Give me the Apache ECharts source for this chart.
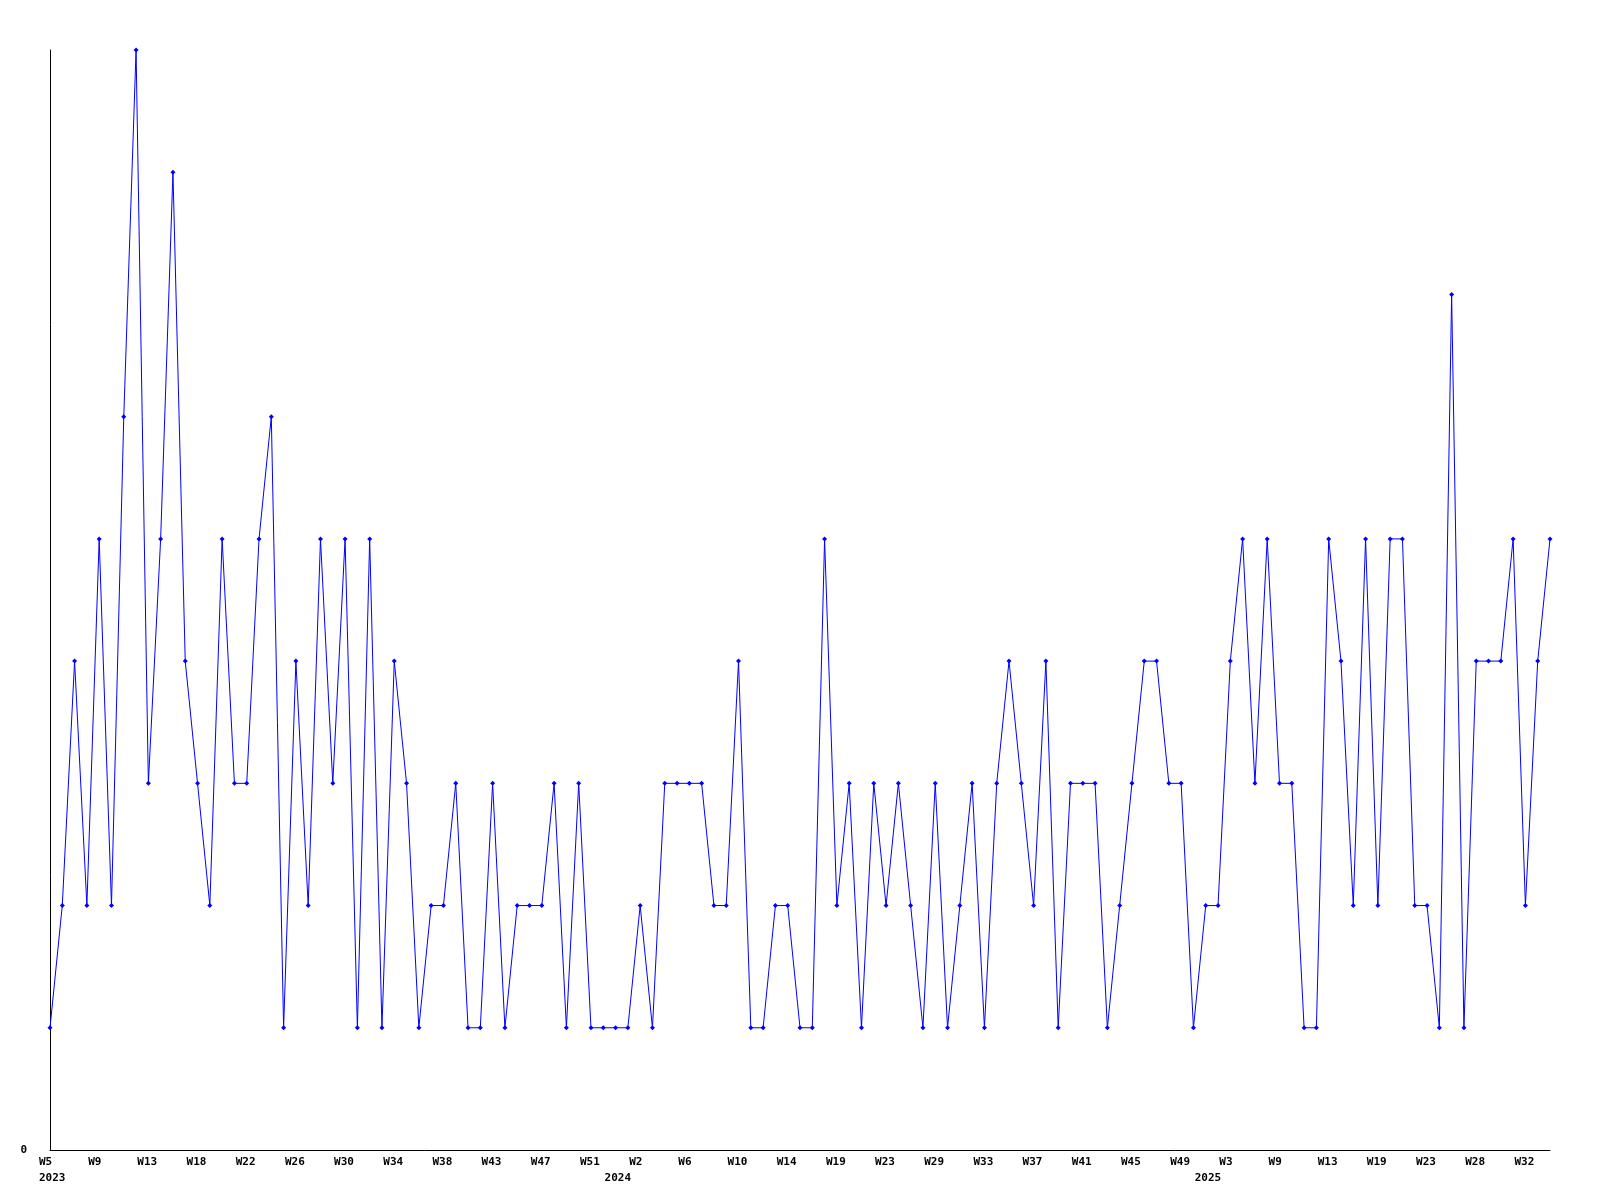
<!DOCTYPE html>
<html>
<head>
<meta charset="utf-8">
<script src="https://cdn.jsdelivr.net/npm/echarts@6/dist/echarts.min.js"></script>
<style>
  html, body { margin: 0; padding: 0; background: #ffffff; }
  #chart { width: 1600px; height: 1200px; }
</style>
</head>
<body>
<div id="chart"></div>
<script>
// Week categories (one per data point)
const weeks = [
  'W5','W6','W7','W8','W9','W10','W11','W12','W13','W14','W15','W17','W18','W19','W20','W21',
  'W22','W23','W24','W25','W26','W27','W28','W29','W30','W31','W32','W33','W34','W35','W36','W37',
  'W38','W39','W40','W42','W43','W44','W45','W46','W47','W48','W49','W50','W51','W52','W1','W1',
  'W2','W3','W4','W5','W6','W7','W8','W9','W10','W11','W12','W13','W14','W15','W17','W18',
  'W19','W20','W21','W22','W23','W25','W27','W28','W29','W30','W31','W32','W33','W34','W35','W36',
  'W37','W38','W39','W40','W41','W42','W43','W44','W45','W46','W47','W48','W49','W51','W1','W2',
  'W3','W5','W7','W8','W9','W10','W11','W12','W13','W15','W16','W18','W19','W20','W21','W22',
  'W23','W24','W26','W27','W28','W29','W30','W31','W32','W33','W34'
];
// Year labels: index of first point of each year
const yearIndex = [0, 46, 94];
const yearNames = ['2023', '2024', '2025'];
// Values
const values = [
  1,2,4,2,5,2,6,9,3,5,8,4,3,2,5,3,
  3,5,6,1,4,2,5,3,5,1,5,1,4,3,1,2,
  2,3,1,1,3,1,2,2,2,3,1,3,1,1,1,1,
  2,1,3,3,3,3,2,2,4,1,1,2,2,1,1,5,
  2,3,1,3,2,3,2,1,3,1,2,3,1,3,4,3,
  2,4,1,3,3,3,1,2,3,4,4,3,3,1,2,2,
  4,5,3,5,3,3,1,1,5,4,2,5,2,5,5,2,
  2,1,7,1,4,4,4,5,2,4,5
];
const yTicks = ['0'];

const chart = echarts.init(document.getElementById('chart'), null, { renderer: 'canvas' });
const labelFont = { fontFamily: 'DejaVu Sans Mono', fontWeight: 'bold', fontSize: 11, color: '#000' };

chart.setOption({
  animation: false,
  backgroundColor: '#ffffff',
  grid: [
    { left: 50, right: 50, top: 50, bottom: 50, containLabel: false },
    // label grid: same width, shifted left so labels start just left of each tick
    { left: 39, right: 61, top: 50, bottom: 50, containLabel: false }
  ],
  xAxis: [
    {
      type: 'category',
      gridIndex: 0,
      data: weeks,
      boundaryGap: false,
      axisLine: { show: true, lineStyle: { color: '#000', width: 1 } },
      axisTick: { show: false },
      axisLabel: { show: false },
      splitLine: { show: false }
    },
    {
      type: 'category',
      gridIndex: 1,
      data: weeks,
      position: 'bottom',
      boundaryGap: false,
      axisLine: { show: false },
      axisTick: { show: false },
      axisLabel: Object.assign({ interval: 3, margin: 7, align: 'left' }, labelFont),
      splitLine: { show: false }
    },
    {
      type: 'category',
      gridIndex: 1,
      data: weeks,
      position: 'bottom',
      offset: 16,
      boundaryGap: false,
      axisLine: { show: false },
      axisTick: { show: false },
      axisLabel: Object.assign({
        margin: 7,
        align: 'left',
        interval: function (idx) { return yearIndex.indexOf(idx) >= 0; },
        formatter: function (v, idx) {
          const k = yearIndex.indexOf(idx);
          return k >= 0 ? yearNames[k] : '';
        }
      }, labelFont),
      splitLine: { show: false }
    }
  ],
  yAxis: [
    {
      type: 'value',
      gridIndex: 0,
      min: 0,
      max: 9,
      interval: 9,
      axisLine: { show: true, lineStyle: { color: '#000', width: 1 } },
      axisTick: { show: false },
      splitLine: { show: false },
      axisLabel: Object.assign({
        margin: 23,
        formatter: function (v) { return v === 0 ? yTicks[0] : ''; }
      }, labelFont)
    },
    {
      type: 'value',
      gridIndex: 1,
      min: 0,
      max: 9,
      show: false
    }
  ],
  series: [{
    type: 'line',
    data: values,
    xAxisIndex: 0,
    yAxisIndex: 0,
    symbol: 'diamond',
    symbolSize: 5,
    showAllSymbol: true,
    lineStyle: { color: '#0000ff', width: 1 },
    itemStyle: { color: '#0000ff' },
    clip: false
  }]
});
</script>
</body>
</html>
